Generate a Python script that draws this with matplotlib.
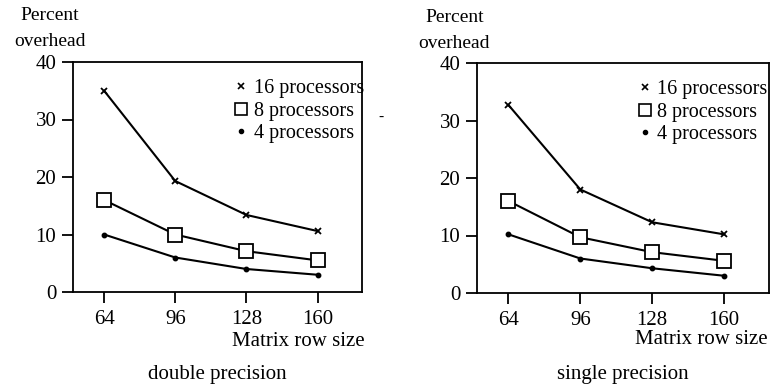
import matplotlib
matplotlib.use("Agg")
import matplotlib.pyplot as plt
from matplotlib.lines import Line2D

plt.rcParams['font.family'] = ['Liberation Serif', 'DejaVu Serif']

row_sizes = [64, 96, 128, 160]
yticks = [0, 10, 20, 30, 40]

double_16 = [35.0, 19.3, 13.4, 10.6]
double_8 = [16.0, 10.0, 7.1, 5.5]
double_4 = [10.0, 6.0, 4.0, 3.0]

single_16 = [32.7, 18.0, 12.3, 10.2]
single_8 = [16.0, 9.7, 7.1, 5.6]
single_4 = [10.2, 6.0, 4.3, 3.0]

labels = ["16 processors", "8 processors", "4 processors"]

fig = plt.figure(figsize=(7.71, 3.85), dpi=100)

FS = 15
LFS = 14.5

def panel(rect, s16, s8, s4, legx):
    ax = fig.add_axes(rect)
    ax.plot(row_sizes, s16, color='black', lw=1.5, marker='x', ms=5, mew=1.3)
    ax.plot(row_sizes, s8, color='black', lw=1.5, marker='s', ms=10.5, mfc='white', mew=1.3)
    ax.plot(row_sizes, s4, color='black', lw=1.5, marker='o', ms=3.2)
    ax.set_xlim(50, 180)
    ax.set_ylim(0, 40)
    ax.set_xticks(row_sizes)
    ax.set_yticks(yticks)
    ax.tick_params(axis='both', direction='out', length=8, width=1.3, labelsize=FS)
    ax.tick_params(axis='x', pad=5)
    ax.tick_params(axis='y', pad=4)
    for sp in ax.spines.values():
        sp.set_linewidth(1.3)
    handles = [
        Line2D([], [], color='black', ls='none', marker='x', ms=5, mew=1.2),
        Line2D([], [], color='black', ls='none', marker='s', ms=8, mfc='white', mew=1.2),
        Line2D([], [], color='black', ls='none', marker='o', ms=3),
    ]
    leg = ax.legend(handles, labels, loc='upper left', bbox_to_anchor=(legx, 0.925),
                    frameon=False, fontsize=LFS, handlelength=0.6, handletextpad=0.3,
                    labelspacing=0.17, borderaxespad=0, borderpad=0)
    leg.set_clip_on(False)
    return ax

axL = panel([73/771, 1 - 292/385, 289/771, 230/385], double_16, double_8, double_4, 0.562)
axR = panel([477/771, 1 - 293/385, 292/771, 230/385], single_16, single_8, single_4, 0.553)

# y axis labels
fig.text(50/771, 1 - 16/385, "Percent", ha='center', va='center', fontsize=14)
fig.text(50/771, 1 - 42/385, "overhead", ha='center', va='center', fontsize=14)
fig.text(455/771, 1 - 17/385, "Percent", ha='center', va='center', fontsize=14)
fig.text(454/771, 1 - 43/385, "overhead", ha='center', va='center', fontsize=14)

# x axis labels
fig.text(365/771, 1 - 342/385, "Matrix row size", ha='right', va='center', fontsize=FS)
fig.text(768/771, 1 - 340/385, "Matrix row size", ha='right', va='center', fontsize=FS)

# captions
fig.text(217/771, 1 - 375/385, "double precision", ha='center', va='center', fontsize=FS)
fig.text(623/771, 1 - 375/385, "single precision", ha='center', va='center', fontsize=FS)

fig.text(381/771, 1 - 117/385, "-", ha='center', va='center', fontsize=11)

fig.savefig("out.png", dpi=100)
